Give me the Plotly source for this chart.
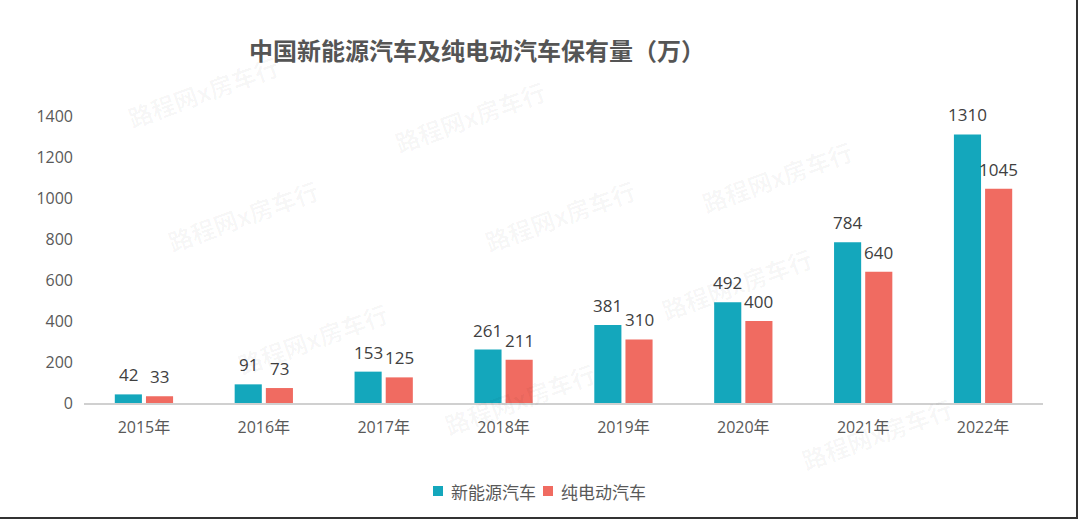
import plotly.graph_objects as go

years = ["2015年", "2016年", "2017年", "2018年", "2019年", "2020年", "2021年", "2022年"]
nev = [42, 91, 153, 261, 381, 492, 784, 1310]
bev = [33, 73, 125, 211, 310, 400, 640, 1045]
series_names = ["新能源汽车", "纯电动汽车"]
colors = ["#14A7BC", "#F06B61"]
y_ticks = [0, 200, 400, 600, 800, 1000, 1200, 1400]

W, H = 1080, 520
ML, MR, MT, MB = 84, 37, 116, 117
BARGAP, GROUPGAP = 0.48, 0.13

font = "Open Sans, Noto Sans CJK SC, sans-serif"
cjk = "Noto Sans CJK SC, sans-serif"

fig = go.Figure()
for name, vals, c in zip(series_names, [nev, bev], colors):
    fig.add_trace(go.Bar(
        x=years, y=vals, name=name, marker=dict(color=c, line=dict(width=0)),
    ))

def px_to_paper_x(px):
    return (px - ML) / (W - ML - MR)

def px_to_paper_y(py):
    return (H - MB - py) / (H - MT - MB)

annotations = [dict(
    text="<b>中国新能源汽车及纯电动汽车保有量（万）</b>", x=px_to_paper_x(477), y=px_to_paper_y(50),
    xref="paper", yref="paper", showarrow=False, xanchor="center", yanchor="middle",
    font=dict(size=24, color="#555555", family=cjk),
)]

# value labels placed above each bar (pixel offset of each bar within its group)
cat_px = (W - ML - MR) / len(years)
slot_px = cat_px * (1 - BARGAP) / 2
for i, vals in enumerate([nev, bev]):
    xs = (i - 0.5) * slot_px
    for yr, v in zip(years, vals):
        annotations.append(dict(
            text=str(v), x=yr, y=v, xref="x", yref="y", showarrow=False,
            xanchor="center", yanchor="bottom", xshift=xs, yshift=6,
            font=dict(size=17, color="#404040", family=font),
        ))

# faint watermarks
wm_pos = [(120, 45), (470, 70), (160, 215), (560, 215), (860, 130), (230, 385), (820, 330), (520, 445), (960, 480)]
for (wx, wy) in wm_pos:
    annotations.append(dict(
        text="<b>路程网x房车行</b>", x=px_to_paper_x(wx), y=px_to_paper_y(wy),
        xref="paper", yref="paper", showarrow=False, textangle=-20,
        font=dict(size=24, color="rgba(0,0,0,0.035)", family=cjk),
    ))

shapes = [
    dict(type="line", xref="paper", yref="paper", x0=px_to_paper_x(1077), x1=px_to_paper_x(1077),
         y0=px_to_paper_y(0), y1=px_to_paper_y(519), line=dict(color="#333333", width=2)),
    dict(type="line", xref="paper", yref="paper", x0=px_to_paper_x(0), x1=px_to_paper_x(1078),
         y0=px_to_paper_y(518), y1=px_to_paper_y(518), line=dict(color="#333333", width=2)),
]

# custom legend (small squares + labels)
legend_x = [433, 543]
for lx, name, c in zip(legend_x, series_names, colors):
    shapes.append(dict(type="rect", xref="paper", yref="paper",
                       x0=px_to_paper_x(lx), x1=px_to_paper_x(lx + 10),
                       y0=px_to_paper_y(486), y1=px_to_paper_y(496),
                       fillcolor=c, line=dict(width=0)))
    annotations.append(dict(
        text=name, x=px_to_paper_x(lx + 16), y=px_to_paper_y(491), xref="paper", yref="paper",
        showarrow=False, xanchor="left", yanchor="middle",
        font=dict(size=17, color="#595959", family=cjk),
    ))

fig.update_layout(
    width=W, height=H, autosize=False,
    margin=dict(l=ML, r=MR, t=MT, b=MB),
    paper_bgcolor="white", plot_bgcolor="white",
    barmode="group", bargap=BARGAP, bargroupgap=GROUPGAP,
    showlegend=False,
    xaxis=dict(showline=True, linecolor="#D0D0D0", linewidth=1.5, ticks="", showgrid=False,
               ticklabelstandoff=9,
               tickfont=dict(size=16, color="#595959", family=font)),
    yaxis=dict(range=[0, 1400], tickvals=y_ticks, showgrid=False, zeroline=False, showline=False,
               ticks="", ticklabelstandoff=10,
               tickfont=dict(size=16, color="#595959", family=font)),
    annotations=annotations, shapes=shapes,
)

fig.write_html("out.html")
